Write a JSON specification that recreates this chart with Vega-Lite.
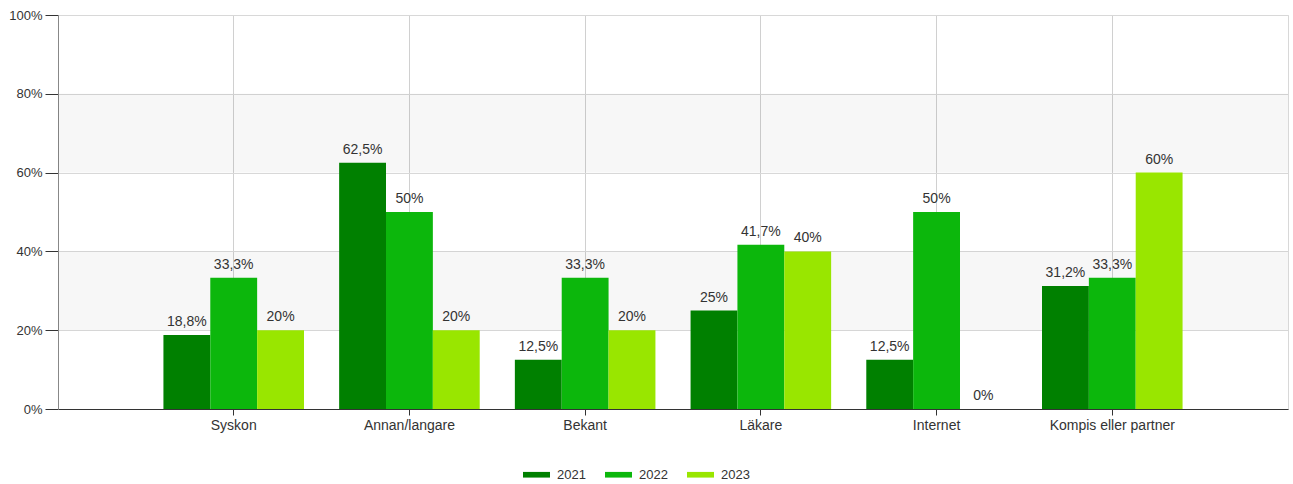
{
  "$schema": "https://vega.github.io/schema/vega-lite/v6.json",
  "width": 1230,
  "height": 394,
  "autosize": "none",
  "padding": {"left": 58, "top": 15, "right": 5, "bottom": 75},
  "config": {
    "font": "Liberation Sans",
    "view": {"stroke": "#d8d8d8"},
    "locale": {"number": {"decimal": ",", "thousands": " ", "grouping": [3], "currency": ["", " kr"]}}
  },
  "datasets": {
    "bands": [{"lo": 0.2, "hi": 0.4}, {"lo": 0.6, "hi": 0.8}],
    "main": [
      {"kategori": "Syskon", "year": "2021", "andel": 0.188},
      {"kategori": "Syskon", "year": "2022", "andel": 0.333},
      {"kategori": "Syskon", "year": "2023", "andel": 0.2},
      {"kategori": "Annan/langare", "year": "2021", "andel": 0.625},
      {"kategori": "Annan/langare", "year": "2022", "andel": 0.5},
      {"kategori": "Annan/langare", "year": "2023", "andel": 0.2},
      {"kategori": "Bekant", "year": "2021", "andel": 0.125},
      {"kategori": "Bekant", "year": "2022", "andel": 0.333},
      {"kategori": "Bekant", "year": "2023", "andel": 0.2},
      {"kategori": "Läkare", "year": "2021", "andel": 0.25},
      {"kategori": "Läkare", "year": "2022", "andel": 0.417},
      {"kategori": "Läkare", "year": "2023", "andel": 0.4},
      {"kategori": "Internet", "year": "2021", "andel": 0.125},
      {"kategori": "Internet", "year": "2022", "andel": 0.5},
      {"kategori": "Internet", "year": "2023", "andel": 0.0},
      {"kategori": "Kompis eller partner", "year": "2021", "andel": 0.312},
      {"kategori": "Kompis eller partner", "year": "2022", "andel": 0.333},
      {"kategori": "Kompis eller partner", "year": "2023", "andel": 0.6}
    ]
  },
  "layer": [
    {
      "data": {"name": "bands"},
      "mark": {"type": "rect", "fill": "#000", "opacity": 0.032},
      "encoding": {
        "x": {"value": 0},
        "x2": {"value": "width"},
        "y": {"field": "lo", "type": "quantitative", "scale": {"domain": [0, 1], "nice": false}},
        "y2": {"field": "hi"}
      }
    },
    {
      "data": {"name": "main"},
      "layer": [
        {
          "mark": {"type": "bar"},
          "encoding": {
            "x": {
              "field": "kategori", "type": "nominal", "sort": null, "title": null,
              "scale": {"paddingInner": 0.2, "paddingOuter": 0.6},
              "axis": {
                "labelAngle": 0, "labelFontSize": 14, "labelColor": "#333", "labelPadding": 3,
                "tickSize": 6, "tickColor": "#333", "domainColor": "#333",
                "gridColor": "#d0d0d0", "grid": true
              }
            },
            "xOffset": {"field": "year", "type": "nominal", "scale": {"paddingInner": 0, "paddingOuter": 0}},
            "y": {
              "field": "andel", "type": "quantitative", "title": null,
              "scale": {"domain": [0, 1], "nice": false},
              "axis": {
                "format": "~%", "values": [0, 0.2, 0.4, 0.6, 0.8, 1],
                "labelFontSize": 13, "labelColor": "#333", "labelPadding": 3,
                "tickSize": 13, "tickColor": "#333", "domainColor": "#888",
                "gridColor": "#d8d8d8"
              }
            },
            "color": {
              "field": "year", "type": "nominal", "title": null,
              "scale": {"domain": ["2021", "2022", "2023"], "range": ["#008000", "#0cb70c", "#99e600"]},
              "legend": {
                "orient": "none", "legendX": 465, "legendY": 446, "direction": "horizontal",
                "symbolType": "M-1,-0.21H1V0.21H-1Z", "symbolSize": 729, "symbolStrokeWidth": 0,
                "labelFontSize": 13, "labelColor": "#333", "labelOffset": 7, "columnPadding": 19
              }
            }
          }
        },
        {
          "mark": {"type": "text", "baseline": "bottom", "dy": -6, "fontSize": 14, "color": "#333"},
          "encoding": {
            "x": {"field": "kategori", "type": "nominal", "sort": null},
            "xOffset": {"field": "year", "type": "nominal"},
            "y": {"field": "andel", "type": "quantitative"},
            "text": {"field": "andel", "type": "quantitative", "format": ".1~%"}
          }
        }
      ]
    }
  ]
}
